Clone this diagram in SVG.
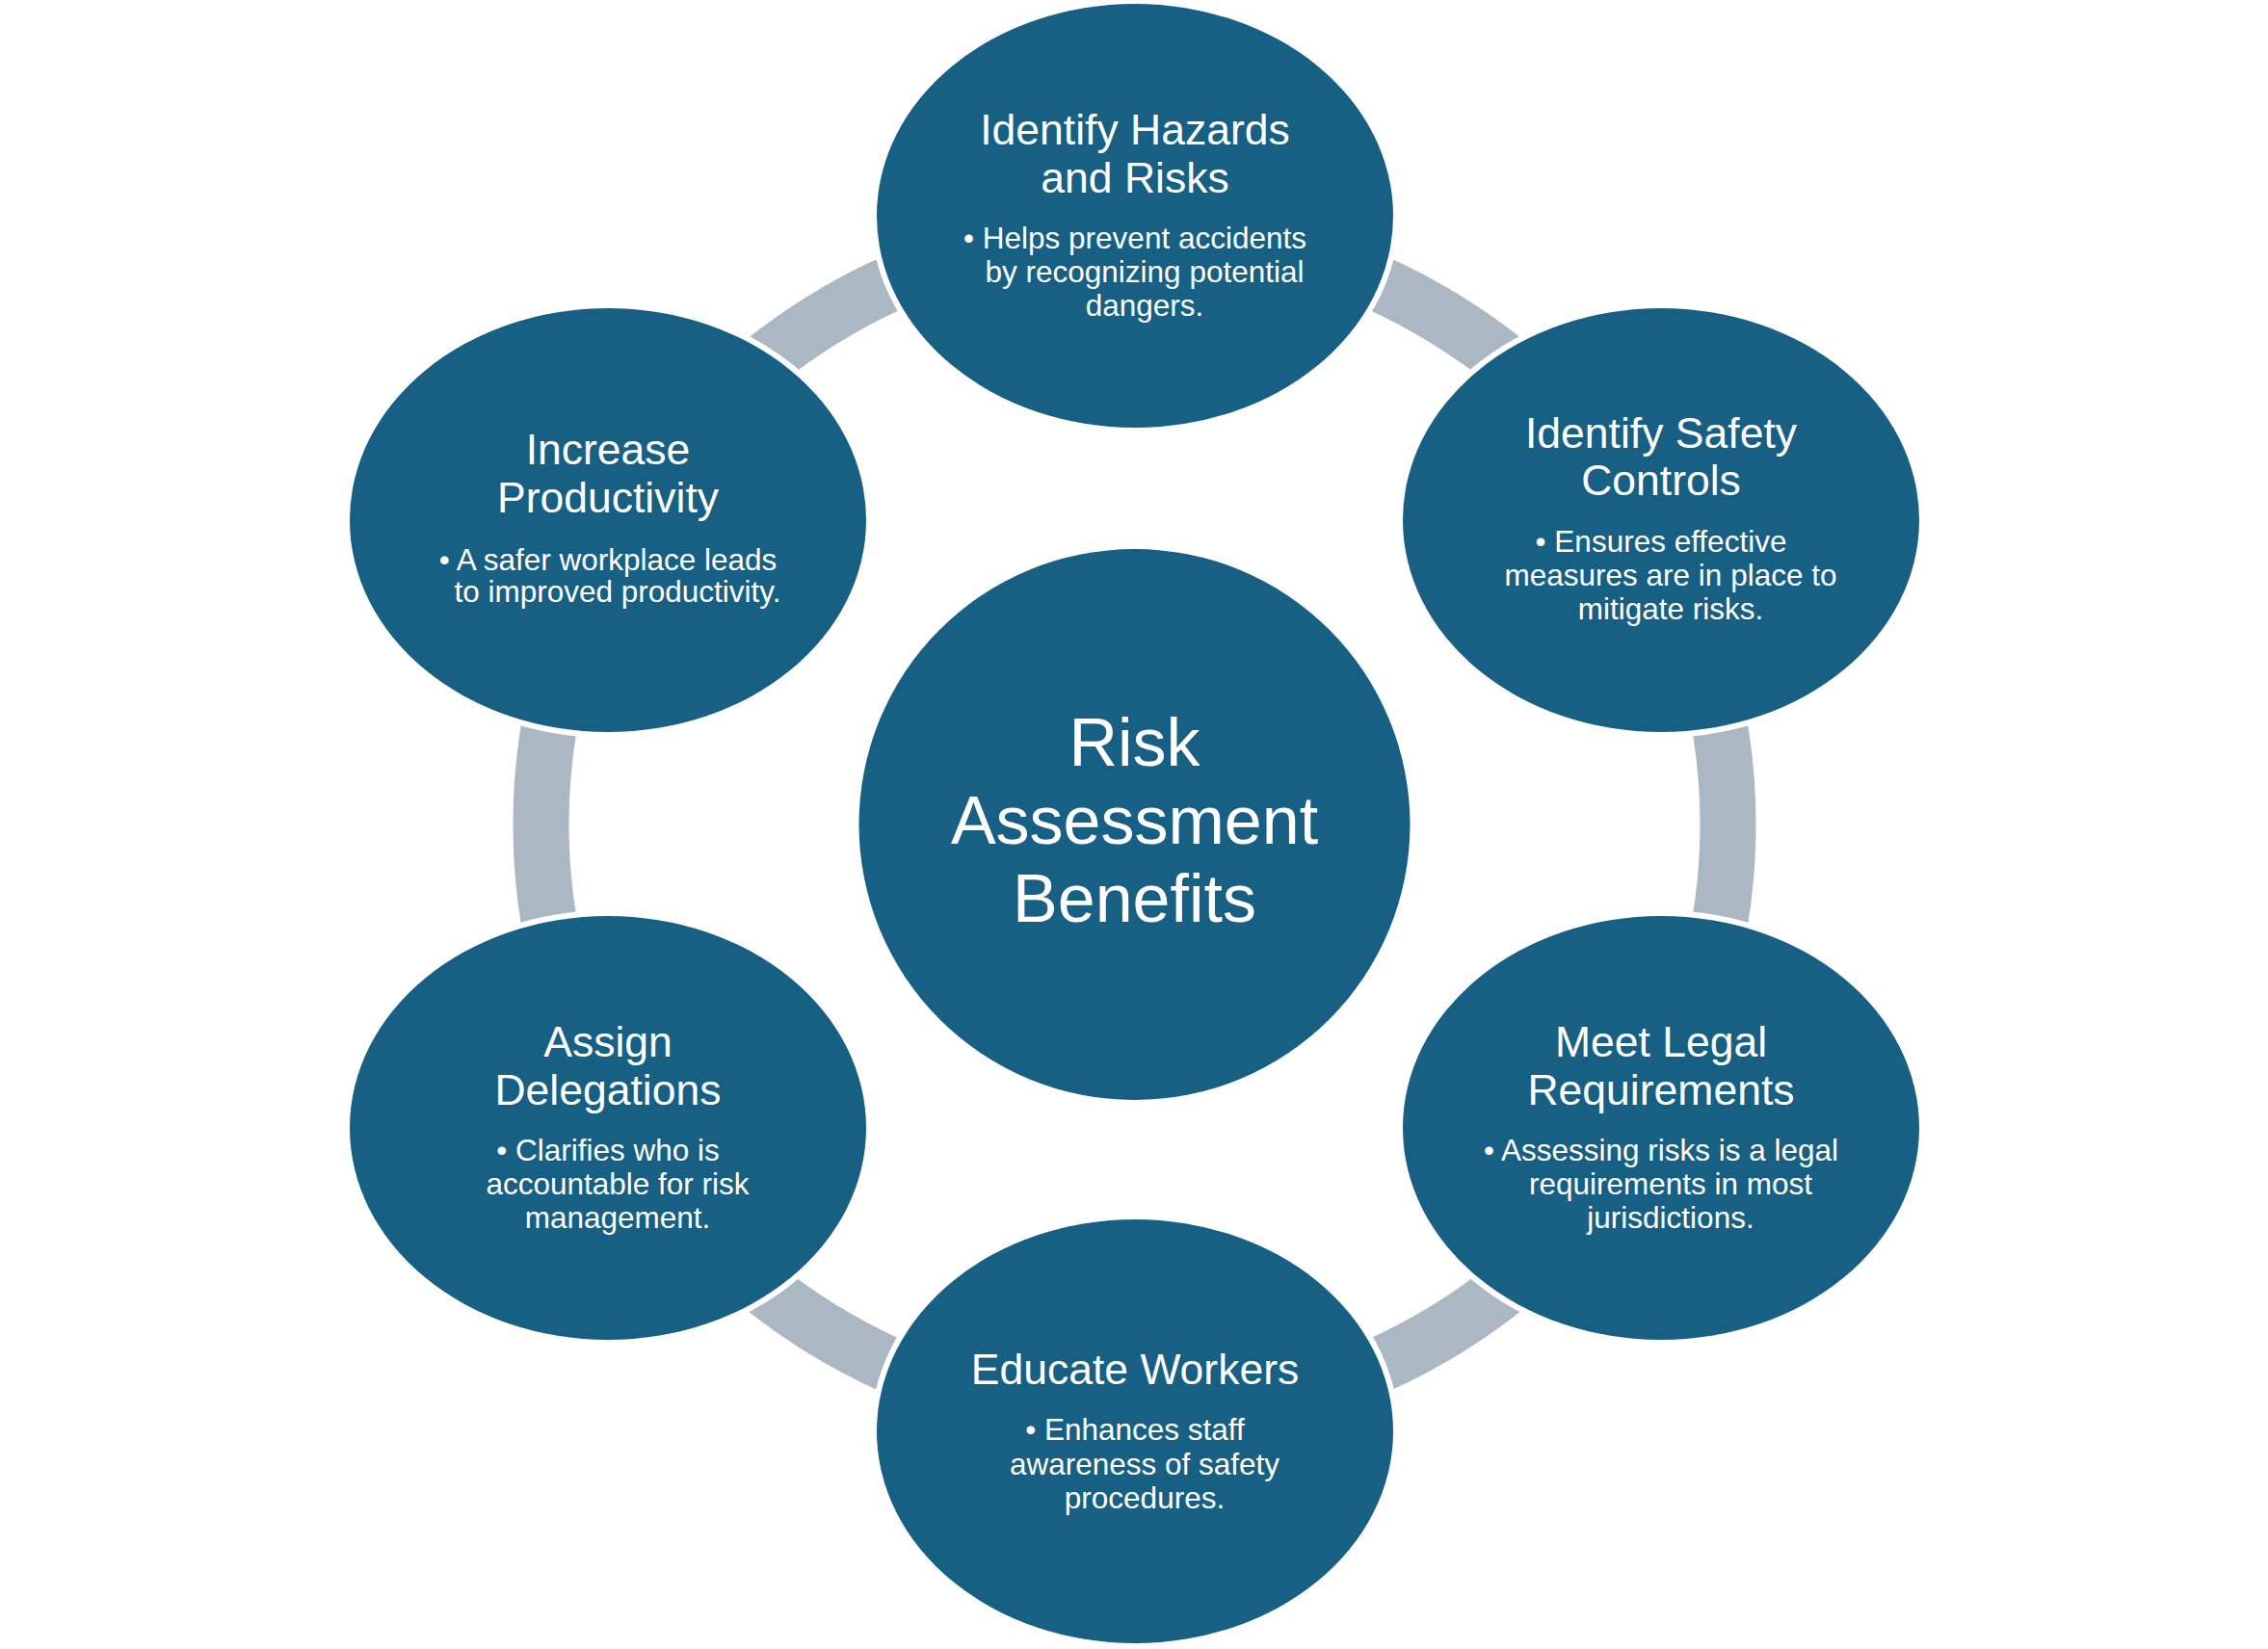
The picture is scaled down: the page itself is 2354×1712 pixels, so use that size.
<svg xmlns="http://www.w3.org/2000/svg" width="2354" height="1712" viewBox="0 0 2354 1712">
<style>
.ring{fill:none;stroke:#ABB7C3;stroke-width:58}
.node{fill:#176083;stroke:#FFFFFF;stroke-width:12;paint-order:stroke}
.center{fill:#176083}
text{font-family:"Liberation Sans",Arial,sans-serif;fill:#FFFFFF;text-anchor:middle}
.t{font-size:44.5px}
.b{font-size:31.5px}
.c{font-size:70px}
</style>
<rect width="2354" height="1712" fill="#FFFFFF"/>
<g id="connectors">
<path class="ring" d="M 1177.5 240 A 616 616 0 0 1 1711 548"/>
<path class="ring" d="M 1711 548 A 616 616 0 0 1 1711 1164"/>
<path class="ring" d="M 1711 1164 A 616 616 0 0 1 1177.5 1472"/>
<path class="ring" d="M 1177.5 1472 A 616 616 0 0 1 644 1164"/>
<path class="ring" d="M 644 1164 A 616 616 0 0 1 644 548"/>
<path class="ring" d="M 644 548 A 616 616 0 0 1 1177.5 240"/>
</g>
<g id="center-node">
<circle class="center" cx="1177.5" cy="856" r="286"/>
<text class="c" x="1177.5" y="795">Risk</text>
<text class="c" x="1177.5" y="876">Assessment</text>
<text class="c" x="1177.5" y="957">Benefits</text>
</g>
<g id="node-hazards">
<ellipse class="node" cx="1178" cy="224" rx="268" ry="220"/>
<text class="t" x="1178" y="150">Identify Hazards</text>
<text class="t" x="1178" y="200">and Risks</text>
<text class="b" x="1178" y="258">• Helps prevent accidents</text>
<text class="b" x="1188" y="293">by recognizing potential</text>
<text class="b" x="1188" y="328">dangers.</text>
</g>
<g id="node-controls">
<ellipse class="node" cx="1724" cy="540" rx="268" ry="220"/>
<text class="t" x="1724" y="465">Identify Safety</text>
<text class="t" x="1724" y="514">Controls</text>
<text class="b" x="1724" y="573">• Ensures effective</text>
<text class="b" x="1734" y="608">measures are in place to</text>
<text class="b" x="1734" y="643">mitigate risks.</text>
</g>
<g id="node-legal">
<ellipse class="node" cx="1724" cy="1171" rx="268" ry="220"/>
<text class="t" x="1724" y="1097">Meet Legal</text>
<text class="t" x="1724" y="1147">Requirements</text>
<text class="b" x="1724" y="1205">• Assessing risks is a legal</text>
<text class="b" x="1734" y="1240">requirements in most</text>
<text class="b" x="1734" y="1275">jurisdictions.</text>
</g>
<g id="node-educate">
<ellipse class="node" cx="1178" cy="1486" rx="268" ry="220"/>
<text class="t" x="1178" y="1437">Educate Workers</text>
<text class="b" x="1178" y="1495">• Enhances staff</text>
<text class="b" x="1188" y="1531">awareness of safety</text>
<text class="b" x="1188" y="1566">procedures.</text>
</g>
<g id="node-delegations">
<ellipse class="node" cx="631" cy="1171" rx="268" ry="220"/>
<text class="t" x="631" y="1097">Assign</text>
<text class="t" x="631" y="1147">Delegations</text>
<text class="b" x="631" y="1205">• Clarifies who is</text>
<text class="b" x="641" y="1240">accountable for risk</text>
<text class="b" x="641" y="1275">management.</text>
</g>
<g id="node-productivity">
<ellipse class="node" cx="631" cy="540" rx="268" ry="220"/>
<text class="t" x="631" y="482">Increase</text>
<text class="t" x="631" y="532">Productivity</text>
<text class="b" x="631" y="592">• A safer workplace leads</text>
<text class="b" x="641" y="625">to improved productivity.</text>
</g>
</svg>
